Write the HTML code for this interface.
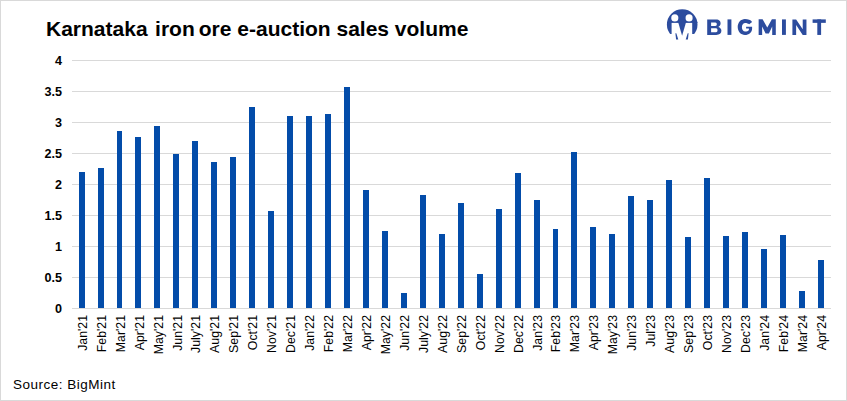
<!DOCTYPE html>
<html><head><meta charset="utf-8">
<style>
html,body{margin:0;padding:0;background:#fff;}
body{width:847px;height:401px;position:relative;overflow:hidden;font-family:"Liberation Sans",sans-serif;}
#frame{position:absolute;left:0;top:0;width:845px;height:399px;border:1px solid #d9d9d9;}
.t{position:absolute;white-space:nowrap;}
#title{left:46px;top:17px;font-size:21px;font-weight:bold;color:#000;}
#src{left:13px;top:377px;font-size:13.5px;letter-spacing:0.5px;color:#000;}
.yl{position:absolute;right:785px;font-size:12.6px;font-weight:bold;color:#000;text-align:right;line-height:12px;}
.xl{position:absolute;width:60px;text-align:right;font-size:12.3px;color:#000;line-height:12px;transform-origin:0 0;transform:rotate(-90deg);white-space:nowrap;}
svg{position:absolute;left:0;top:0;}
.bm{position:absolute;top:14px;font-size:20px;font-weight:bold;color:#2C4C9E;line-height:20px;}
</style></head><body>
<div id="frame"></div>
<div class="t" id="title">Karnataka <span style="margin-left:1.7px;margin-right:-1.8px">iron</span> ore e-auction sales volume</div>

<svg width="847" height="401" viewBox="0 0 847 401">
<rect x="72" y="60" width="759" height="1" fill="#d9d9d9"/>
<rect x="72" y="91" width="759" height="1" fill="#d9d9d9"/>
<rect x="72" y="122" width="759" height="1" fill="#d9d9d9"/>
<rect x="72" y="153" width="759" height="1" fill="#d9d9d9"/>
<rect x="72" y="184" width="759" height="1" fill="#d9d9d9"/>
<rect x="72" y="215" width="759" height="1" fill="#d9d9d9"/>
<rect x="72" y="246" width="759" height="1" fill="#d9d9d9"/>
<rect x="72" y="277" width="759" height="1" fill="#d9d9d9"/>
<rect x="72" y="308" width="759" height="1" fill="#d9d9d9"/>
<rect x="79" y="172" width="6" height="136" fill="#034CA9"/>
<rect x="98" y="168" width="6" height="140" fill="#034CA9"/>
<rect x="117" y="131" width="5" height="177" fill="#034CA9"/>
<rect x="135" y="137" width="6" height="171" fill="#034CA9"/>
<rect x="154" y="126" width="6" height="182" fill="#034CA9"/>
<rect x="173" y="154" width="6" height="154" fill="#034CA9"/>
<rect x="192" y="141" width="6" height="167" fill="#034CA9"/>
<rect x="211" y="162" width="6" height="146" fill="#034CA9"/>
<rect x="230" y="157" width="6" height="151" fill="#034CA9"/>
<rect x="249" y="107" width="6" height="201" fill="#034CA9"/>
<rect x="268" y="211" width="6" height="97" fill="#034CA9"/>
<rect x="287" y="116" width="6" height="192" fill="#034CA9"/>
<rect x="306" y="116" width="6" height="192" fill="#034CA9"/>
<rect x="325" y="114" width="6" height="194" fill="#034CA9"/>
<rect x="344" y="87" width="6" height="221" fill="#034CA9"/>
<rect x="363" y="190" width="6" height="118" fill="#034CA9"/>
<rect x="382" y="231" width="6" height="77" fill="#034CA9"/>
<rect x="401" y="293" width="6" height="15" fill="#034CA9"/>
<rect x="420" y="195" width="6" height="113" fill="#034CA9"/>
<rect x="439" y="234" width="6" height="74" fill="#034CA9"/>
<rect x="458" y="203" width="6" height="105" fill="#034CA9"/>
<rect x="477" y="274" width="6" height="34" fill="#034CA9"/>
<rect x="496" y="209" width="6" height="99" fill="#034CA9"/>
<rect x="515" y="173" width="6" height="135" fill="#034CA9"/>
<rect x="534" y="200" width="6" height="108" fill="#034CA9"/>
<rect x="553" y="229" width="5" height="79" fill="#034CA9"/>
<rect x="571" y="152" width="6" height="156" fill="#034CA9"/>
<rect x="590" y="227" width="6" height="81" fill="#034CA9"/>
<rect x="609" y="234" width="6" height="74" fill="#034CA9"/>
<rect x="628" y="196" width="6" height="112" fill="#034CA9"/>
<rect x="647" y="200" width="6" height="108" fill="#034CA9"/>
<rect x="666" y="180" width="6" height="128" fill="#034CA9"/>
<rect x="685" y="237" width="6" height="71" fill="#034CA9"/>
<rect x="704" y="178" width="6" height="130" fill="#034CA9"/>
<rect x="723" y="236" width="6" height="72" fill="#034CA9"/>
<rect x="742" y="232" width="6" height="76" fill="#034CA9"/>
<rect x="761" y="249" width="6" height="59" fill="#034CA9"/>
<rect x="780" y="235" width="6" height="73" fill="#034CA9"/>
<rect x="799" y="291" width="6" height="17" fill="#034CA9"/>
<rect x="818" y="260" width="6" height="48" fill="#034CA9"/>
<defs><clipPath id="cc"><circle cx="682.2" cy="24.5" r="15.3"/></clipPath></defs>
<g clip-path="url(#cc)" fill="#2C4C9E">
<rect x="660" y="0" width="50" height="22.9"/>
<rect x="660" y="22" width="11.6" height="12"/>
<rect x="692.2" y="22" width="20" height="12"/>
<polygon points="678.1,22 686.1,22 682.1,35.8"/>
</g>
<g fill="#2C4C9E"><polygon points="675.4,33.2 676.3,33.2 678.3,39.4 676.1,39.4"/>
<polygon points="687.7,33.2 688.6,33.2 687.9,39.4 685.7,39.4"/></g>
<circle cx="674.8" cy="17.9" r="3.55" fill="#fff"/>
<circle cx="689.1" cy="17.9" r="3.55" fill="#fff"/>

<g fill="#2C4C9E">
<path fill-rule="evenodd" d="M707.2,19.4 H716 C719.5,19.4 720.6,21.2 720.6,23.3 C720.6,25 719.7,26.4 718.3,26.9 C720.2,27.4 721.4,28.8 721.4,30.8 C721.4,33.4 719.6,34.9 716.2,34.9 H707.2 Z M711.1,22.5 H715.3 C716.4,22.5 716.8,23.3 716.8,24.2 C716.8,25.2 716.3,25.9 715.3,25.9 H711.1 Z M711.1,28.3 H716 C717,28.3 717.5,29.1 717.5,30.25 C717.5,31.4 717,32.2 716,32.2 H711.1 Z"/>
<rect x="727.5" y="19.4" width="3.9" height="15.5"/>
<path d="M752.1,22.0 C750.8,20.0 748.0,19.1 744.9,19.1 C740.9,19.1 737.7,22.7 737.7,27.1 C737.7,31.5 740.9,35.1 744.9,35.1 C748.9,35.1 752.1,32.3 752.1,28.8 L752.1,26.7 L746.1,26.7 L746.1,28.4 L748.9,28.4 L748.9,29.9 C748.2,31.0 746.8,31.6 745.2,31.6 C743.3,31.6 741.9,29.6 741.9,27.3 C741.9,24.9 743.3,23.0 745.2,23.0 C746.8,23.0 748.2,23.6 749.2,24.3 Z"/>
<polygon points="758.64,34.96 758.64,19.3 762.6,19.3 767.26,27.5 771.9,19.3 775.8,19.3 775.8,34.96 772.2,34.96 772.2,26.4 768.9,33.6 765.6,33.6 762.15,26.4 762.15,34.96"/>
<rect x="782" y="19.4" width="3.9" height="15.5"/>
<polygon points="792.4,34.94 792.4,19.4 796.13,19.4 802.72,29.2 802.72,19.4 806.45,19.4 806.45,34.94 802.72,34.94 796.13,25.06 796.13,34.94"/>
<rect x="812.6" y="19.4" width="13.2" height="3.46"/>
<rect x="817.3" y="19.4" width="3.8" height="15.54"/>
</g>
</svg>
<div class="yl" style="top:54.5px">4</div>
<div class="yl" style="top:85.5px">3.5</div>
<div class="yl" style="top:116.5px">3</div>
<div class="yl" style="top:147.5px">2.5</div>
<div class="yl" style="top:178.5px">2</div>
<div class="yl" style="top:209.5px">1.5</div>
<div class="yl" style="top:240.5px">1</div>
<div class="yl" style="top:271.5px">0.5</div>
<div class="yl" style="top:302.5px">0</div>
<div class="xl" style="left:77.00px;top:375px"><span>Jan'21</span></div>
<div class="xl" style="left:96.00px;top:375px"><span>Feb'21</span></div>
<div class="xl" style="left:115.00px;top:375px"><span>Mar'21</span></div>
<div class="xl" style="left:134.00px;top:375px"><span>Apr'21</span></div>
<div class="xl" style="left:153.00px;top:375px"><span>May'21</span></div>
<div class="xl" style="left:172.00px;top:375px"><span>Jun'21</span></div>
<div class="xl" style="left:190.00px;top:375px"><span>July'21</span></div>
<div class="xl" style="left:209.00px;top:375px"><span>Aug'21</span></div>
<div class="xl" style="left:228.00px;top:375px"><span>Sep'21</span></div>
<div class="xl" style="left:247.00px;top:375px"><span>Oct'21</span></div>
<div class="xl" style="left:266.00px;top:375px"><span>Nov'21</span></div>
<div class="xl" style="left:285.00px;top:375px"><span>Dec'21</span></div>
<div class="xl" style="left:304.00px;top:375px"><span>Jan'22</span></div>
<div class="xl" style="left:323.00px;top:375px"><span>Feb'22</span></div>
<div class="xl" style="left:342.00px;top:375px"><span>Mar'22</span></div>
<div class="xl" style="left:361.00px;top:375px"><span>Apr'22</span></div>
<div class="xl" style="left:380.00px;top:375px"><span>May'22</span></div>
<div class="xl" style="left:399.00px;top:375px"><span>Jun'22</span></div>
<div class="xl" style="left:418.00px;top:375px"><span>July'22</span></div>
<div class="xl" style="left:437.00px;top:375px"><span>Aug'22</span></div>
<div class="xl" style="left:456.00px;top:375px"><span>Sep'22</span></div>
<div class="xl" style="left:475.00px;top:375px"><span>Oct'22</span></div>
<div class="xl" style="left:494.00px;top:375px"><span>Nov'22</span></div>
<div class="xl" style="left:513.00px;top:375px"><span>Dec'22</span></div>
<div class="xl" style="left:532.00px;top:375px"><span>Jan'23</span></div>
<div class="xl" style="left:550.00px;top:375px"><span>Feb'23</span></div>
<div class="xl" style="left:569.00px;top:375px"><span>Mar'23</span></div>
<div class="xl" style="left:588.00px;top:375px"><span>Apr'23</span></div>
<div class="xl" style="left:607.00px;top:375px"><span>May'23</span></div>
<div class="xl" style="left:626.00px;top:375px"><span>Jun'23</span></div>
<div class="xl" style="left:645.00px;top:375px"><span>Jul'23</span></div>
<div class="xl" style="left:664.00px;top:375px"><span>Aug'23</span></div>
<div class="xl" style="left:683.00px;top:375px"><span>Sep'23</span></div>
<div class="xl" style="left:702.00px;top:375px"><span>Oct'23</span></div>
<div class="xl" style="left:721.00px;top:375px"><span>Nov'23</span></div>
<div class="xl" style="left:740.00px;top:375px"><span>Dec'23</span></div>
<div class="xl" style="left:759.00px;top:375px"><span>Jan'24</span></div>
<div class="xl" style="left:778.00px;top:375px"><span>Feb'24</span></div>
<div class="xl" style="left:797.00px;top:375px"><span>Mar'24</span></div>
<div class="xl" style="left:816.00px;top:375px"><span>Apr'24</span></div>
<div class="t" id="src">Source: BigMint</div>
</body></html>
